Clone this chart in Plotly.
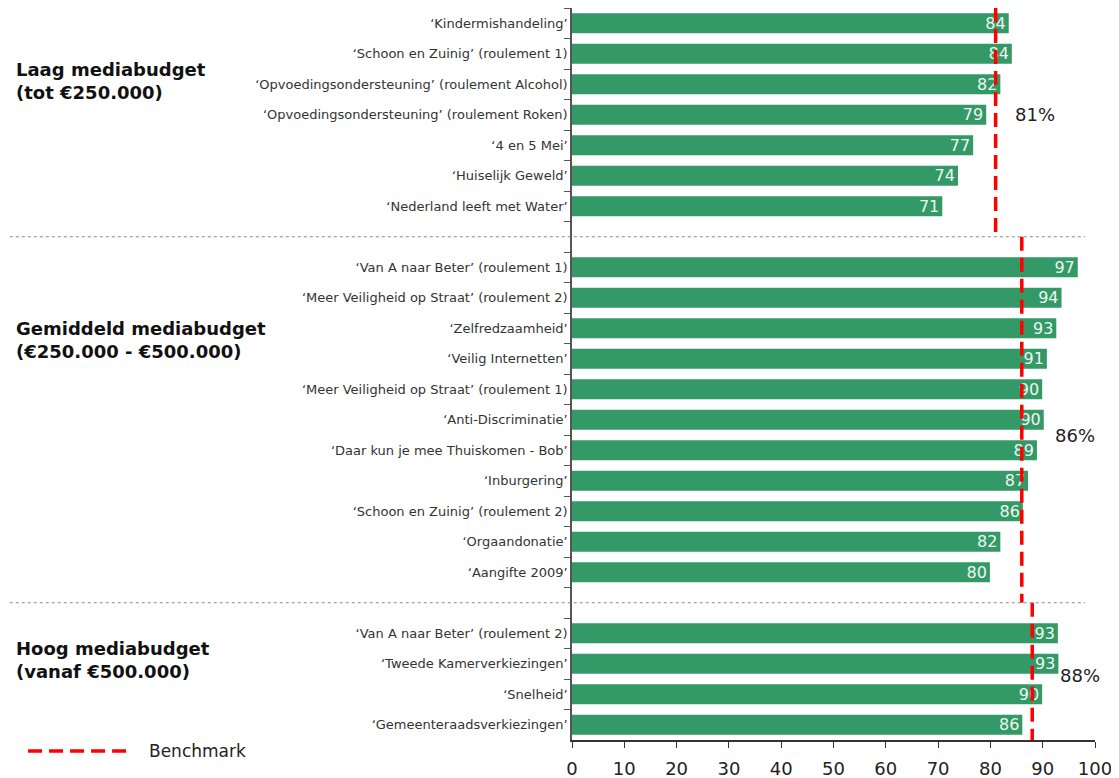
import plotly.graph_objects as go

# ---- data ----
laag_namen = ['‘Kindermishandeling’', '‘Schoon en Zuinig’ (roulement 1)',
              '‘Opvoedingsondersteuning’ (roulement Alcohol)', '‘Opvoedingsondersteuning’ (roulement Roken)',
              '‘4 en 5 Mei’', '‘Huiselijk Geweld’', '‘Nederland leeft met Water’']
laag_scores = [83.5, 84.1, 81.9, 79.2, 76.7, 73.8, 70.8]

gemiddeld_namen = ['‘Van A naar Beter’ (roulement 1)', '‘Meer Veiligheid op Straat’ (roulement 2)',
                   '‘Zelfredzaamheid’', '‘Veilig Internetten’', '‘Meer Veiligheid op Straat’ (roulement 1)',
                   '‘Anti-Discriminatie’', '‘Daar kun je mee Thuiskomen - Bob’', '‘Inburgering’',
                   '‘Schoon en Zuinig’ (roulement 2)', '‘Orgaandonatie’', '‘Aangifte 2009’']
gemiddeld_scores = [96.7, 93.6, 92.6, 90.8, 89.9, 90.2, 88.9, 87.2, 86.2, 81.9, 79.9]

hoog_namen = ['‘Van A naar Beter’ (roulement 2)', '‘Tweede Kamerverkiezingen’',
              '‘Snelheid’', '‘Gemeenteraadsverkiezingen’']
hoog_scores = [92.9, 93.0, 89.9, 86.1]

groep_titels = ['<b>Laag mediabudget<br>(tot €250.000)</b>',
                '<b>Gemiddeld mediabudget<br>(€250.000 - €500.000)</b>',
                '<b>Hoog mediabudget<br>(vanaf €500.000)</b>']
benchmarks = [81, 86, 88]
benchmark_labels = ['81%', '86%', '88%']
x_ticks = list(range(0, 101, 10))

# categories with two empty spacer rows between groups
categorieen = laag_namen + [' '] + gemiddeld_namen + ['  '] + hoog_namen
waarden = laag_scores + [None] + gemiddeld_scores + [None] + hoog_scores
labels = ['' if v is None else f'{round(v)}' for v in waarden]

groen = '#339966'
rood = '#ff0000'
font_fam = 'DejaVu Sans'

fig = go.Figure()
fig.add_trace(go.Bar(y=categorieen, x=waarden, orientation='h', marker=dict(color=groen, line=dict(width=0)),
                     width=0.66, text=labels, textposition='inside', insidetextanchor='end',
                     constraintext='none',
                     textfont=dict(color='#eef7f0', size=16, family=font_fam), cliponaxis=False,
                     showlegend=False, hoverinfo='x+y'))

n = len(categorieen)
sep1 = len(laag_namen)
sep2 = sep1 + 1 + len(gemiddeld_namen)
grenzen = [(-0.5, sep1), (sep1, sep2), (sep2, n - 0.5)]

shapes = []
annotations = []
for (y0, y1), bm in zip(grenzen, benchmarks):
    shapes.append(dict(type='line', xref='x', yref='y', x0=bm, x1=bm, y0=y0, y1=y1,
                       line=dict(color=rood, width=3.5, dash='14px,7px')))

# dotted separators between groups
for s in (sep1, sep2):
    yp = 1 - (s + 0.5) / n
    shapes.append(dict(type='line', xref='paper', yref='paper', x0=-1.075, x1=0.981, y0=yp, y1=yp,
                       line=dict(color='#888888', width=1, dash='dot')))

# benchmark percentages
bm_pos = [(84.3, 3), (92.0, 13.5), (93.0, 21.4)]
for (xp, yp), lab in zip(bm_pos, benchmark_labels):
    annotations.append(dict(x=xp, y=yp, xref='x', yref='y', text=lab, showarrow=False, xanchor='left',
                            font=dict(size=18, color='#222222', family=font_fam)))

# group titles on the left
titel_y = [1.9, 10.38, 20.87]
for t, yy in zip(groep_titels, titel_y):
    annotations.append(dict(x=-1.067, y=yy, xref='paper', yref='y', text=t, showarrow=False, xanchor='left',
                            align='left', font=dict(size=18, color='#111111', family=font_fam)))

# legend drawn by hand
shapes.append(dict(type='line', xref='paper', yref='paper', x0=-1.04, x1=-0.851, y0=-0.015, y1=-0.015,
                   line=dict(color=rood, width=3.5, dash='14px,7px')))
annotations.append(dict(x=-0.813, y=-0.015, xref='paper', yref='paper', text='Benchmark', showarrow=False,
                        xanchor='left', yanchor='middle', font=dict(size=17, color='#222222', family=font_fam)))

# page body adds an 8px offset, so the figure is 8px smaller than the window
fig.update_layout(
    width=1111, height=770,
    margin=dict(l=564, r=24, t=0, b=38),
    paper_bgcolor='white', plot_bgcolor='white',
    font=dict(family=font_fam, color='#222222'),
    shapes=shapes, annotations=annotations,
    xaxis=dict(range=[0, 100], tickvals=x_ticks, ticks='outside', ticklen=6, tickcolor='#333333',
               showline=True, linecolor='#333333', linewidth=1.5, showgrid=False, zeroline=False,
               ticklabelstandoff=6,
               tickfont=dict(size=18, color='#222222', family=font_fam)),
    yaxis=dict(type='category', categoryarray=categorieen, range=[n - 0.5, -0.5], tickson='boundaries',
               ticks='outside', ticklen=6, tickcolor='#555555', showline=True, linecolor='#555555',
               linewidth=1.5, showgrid=False, zeroline=False,
               tickfont=dict(size=13, color='#333333', family=font_fam)),
)

fig.write_html('out.html')
